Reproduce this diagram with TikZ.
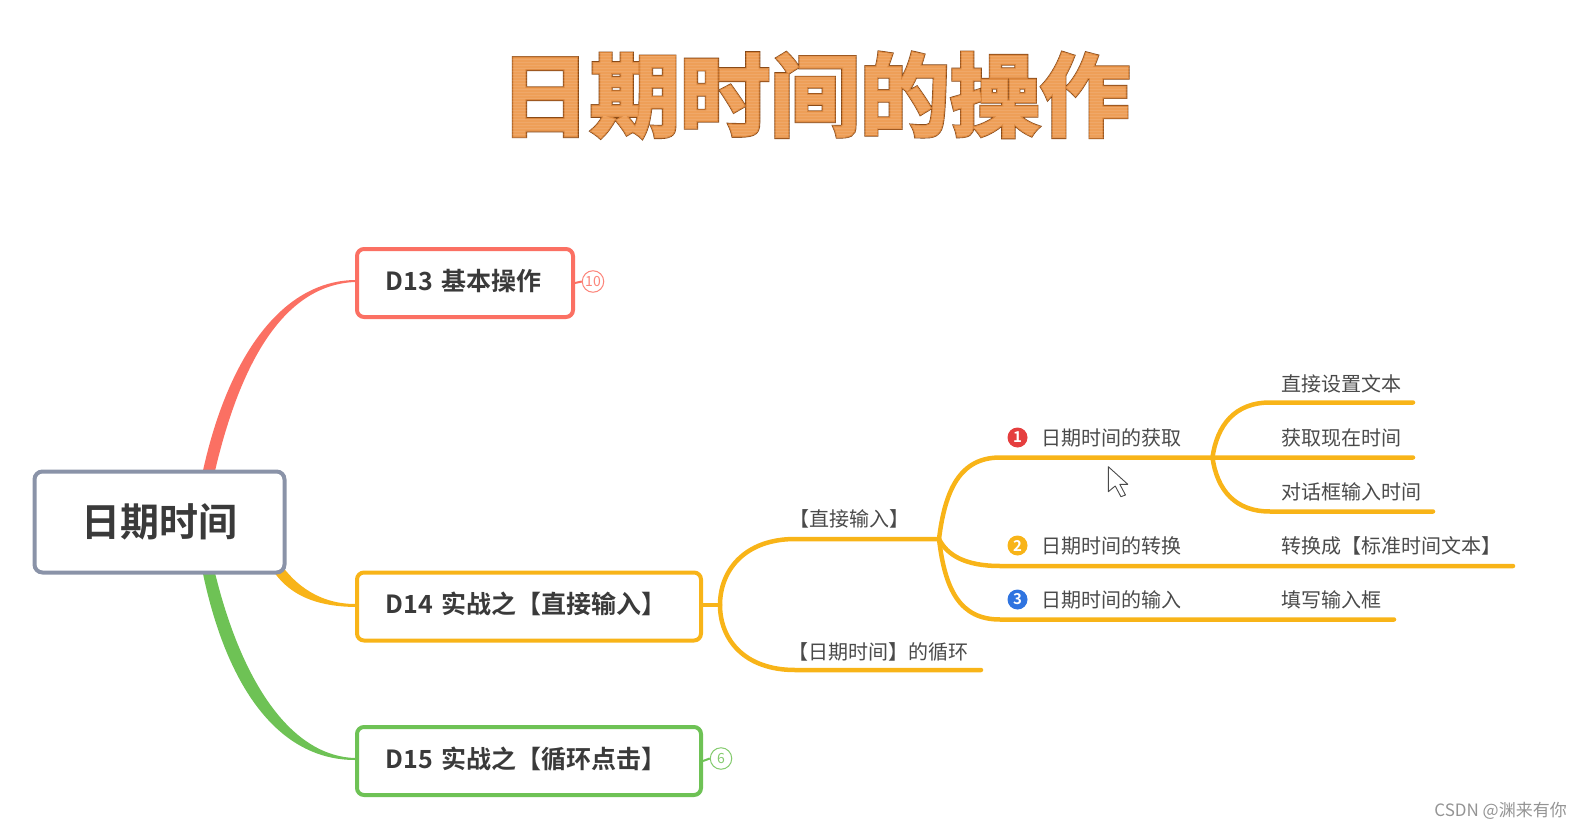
\documentclass[tikz,border=0pt]{standalone}
\usepackage{fontspec}
\setmainfont{Noto Sans CJK SC}[BoldFont=* Bold]
\newfontfamily\titleA{Noto Sans CJK SC Bold}[FakeBold=4.6]
\newfontfamily\titleB{Noto Sans CJK SC Bold}[FakeBold=3.2]
\newfontfamily\titleC{Noto Sans CJK SC Bold}[FakeBold=1]
\usetikzlibrary{calc}
\pgfdeclarelayer{behind}
\pgfsetlayers{behind,main}
\definecolor{cred}{HTML}{FB7063}
\definecolor{corange}{HTML}{F8B418}
\definecolor{cgreen}{HTML}{6EC255}
\definecolor{cgray}{HTML}{8A93A8}
\definecolor{ctext}{HTML}{3A3A3A}
\definecolor{clabel}{HTML}{4A4A4A}
\definecolor{tdark}{HTML}{7E4213}
\definecolor{tmid}{HTML}{D98338}
\definecolor{tlight}{HTML}{EE9F58}
\definecolor{nred}{HTML}{E53E3E}
\definecolor{nblue}{HTML}{2F74E0}
\newcommand{\boxtext}[1]{\raisebox{0pt}[14pt][-2pt]{#1}}
\tikzset{
  x=1pt,y=-1pt,
  rootbox/.style={draw=cgray,fill=white,line width=4pt,rounded corners=8pt,minimum width=250pt,minimum height=101pt,inner sep=0pt,text=ctext,font=\fontsize{39}{46}\selectfont\bfseries},
  mainbox/.style={draw=#1,fill=white,line width=4pt,rounded corners=7pt,minimum height=68pt,inner ysep=0pt,inner xsep=28.5pt,align=left,text=ctext,font=\fontsize{25}{30}\selectfont\bfseries},
  badge/.style={circle,draw=#1,fill=white,line width=1pt,minimum size=21.5pt,inner sep=0pt,text=#1,font=\fontsize{14}{16}\selectfont},
  lab/.style={anchor=west,inner sep=0pt,text=clabel,font=\fontsize{20}{24}\selectfont},
  numdot/.style={circle,fill=#1,minimum size=20pt,inner sep=0pt,text=white,font=\fontsize{15}{17}\selectfont\bfseries},
  branch/.style={draw=corange,line width=4.5pt,line cap=round,line join=round},
  stub/.style={draw=#1,line width=2pt},
  titletext/.style={inner sep=0pt,font=\fontsize{90}{100}\selectfont},
}
\begin{document}
\begin{tikzpicture}
\useasboundingbox (0,0) rectangle (1582,829);
% title
\node[titletext,text=tdark] (titleOuter) at (815,95) {\titleA 日期时间的操作};
\node[titletext,text=tmid] (titleMid) at (815,95) {\titleB 日期时间的操作};
\node[titletext,text=tlight] (titleCore) at (815,95) {\titleC 日期时间的操作};
\foreach \yy in {48,51,...,144}{\draw[white,opacity=.10,line width=1pt] (500,\yy) -- (1136,\yy);}
% main nodes
\node[rootbox] (root) at (159.5,522) {日期时间};
\node[mainbox=cred,text width=159pt] (d13) at (465,283) {\boxtext{D13 基本操作}};
\node[mainbox=corange,text width=287pt] (d14) at (529,606.5) {\boxtext{D14 实战之【直接输入】}};
\node[mainbox=cgreen,text width=287pt] (d15) at (529,761) {\boxtext{D15 实战之【循环点击】}};
\node[badge=cred!85!white] (b13) at (593,281.5) {10};
\node[badge=cgreen!85!white] (b15) at (721,758.5) {6};
% fork points and line ends
\coordinate (fa) at (720,605);
\coordinate (fb) at (939,539);
\coordinate (fc) at (1212.5,457.5);
\coordinate (e1) at (981,670);
\coordinate (e2) at (1513,566);
\coordinate (e3) at (1394,619.5);
\coordinate (e4) at (1413,402.5);
\coordinate (e5) at (1413,457.5);
\coordinate (e6) at (1433,511.5);
\begin{pgfonlayer}{behind}
\fill[cred] ([xshift=169pt,yshift=-8pt]root.north west) .. controls (226,360) and (280,281) .. ([yshift=3pt]d13.west) -- ([yshift=1pt]d13.west) .. controls (285,285) and (240,360) .. ([xshift=181pt,yshift=-8pt]root.north west) -- cycle;
\fill[corange] ([xshift=-16pt,yshift=8pt]root.south east) .. controls (290,600) and (325,606.5) .. ([yshift=-0.5pt]d14.west) -- ([yshift=2.5pt]d14.west) .. controls (325,604) and (300,590) .. ([xshift=-4pt,yshift=8pt]root.south east) -- cycle;
\fill[cgreen] ([xshift=169pt,yshift=8pt]root.south west) .. controls (226,690) and (280,760) .. ([yshift=1pt]d15.west) -- ([yshift=3pt]d15.west) .. controls (290,756) and (240,680) .. ([xshift=181pt,yshift=8pt]root.south west) -- cycle;
\end{pgfonlayer}
\draw[stub=cred] (d13.east) -- (b13.west);
\draw[stub=cgreen] (d15.east) -- (b15.west);
\draw[branch,line cap=butt] ([yshift=1.5pt]d14.east) -- (fa);
\draw[branch] (fa) .. controls (720,570) and (745,539) .. (795,539) -- (fb);
\draw[branch] (fa) .. controls (720,640) and (745,670) .. (795,670) -- (e1);
\draw[branch] (fb) .. controls (945,490) and (960,457.5) .. (1000,457.5) -- (fc) -- (e5);
\draw[branch] (fb) .. controls (947,555) and (965,566) .. (1000,566) -- (e2);
\draw[branch] (fb) .. controls (945,590) and (960,619.5) .. (1000,619.5) -- (e3);
\draw[branch] (fc) .. controls (1217,425) and (1235,402.5) .. (1270,402.5) -- (e4);
\draw[branch] (fc) .. controls (1217,490) and (1235,511.5) .. (1270,511.5) -- (e6);
% labels
\node[lab] (l1) at (789,518.5) {【直接输入】};
\node[lab] (l2) at (788,652) {【日期时间】的循环};
\node[numdot=nred] (n1) at (1017.5,437.5) {1};
\node[numdot=corange] (n2) at (1017.5,545.5) {2};
\node[numdot=nblue] (n3) at (1017.5,599.5) {3};
\node[lab] (l3) at (1041,438) {日期时间的获取};
\node[lab] (l4) at (1041,546) {日期时间的转换};
\node[lab] (l5) at (1041,600) {日期时间的输入};
\node[lab] (l6) at (1281,384) {直接设置文本};
\node[lab] (l7) at (1281,438) {获取现在时间};
\node[lab] (l8) at (1281,492) {对话框输入时间};
\node[lab] (l9) at (1281,546) {转换成【标准时间文本】};
\node[lab] (l10) at (1281,600) {填写输入框};
% pointer
\draw[draw=clabel,fill=white,line width=.9pt,line join=round] (1108.3,466.7) -- (1108.3,491.7) -- (1115.2,486) -- (1120.9,496.7) -- (1125.5,495) -- (1119.8,484.3) -- (1127.8,484.3) -- cycle;
% watermark
\node[anchor=east,inner sep=0pt,text=black!42,font=\fontsize{17}{20}\selectfont] (wm) at (1567,811) {CSDN @渊来有你};
\end{tikzpicture}
\end{document}
